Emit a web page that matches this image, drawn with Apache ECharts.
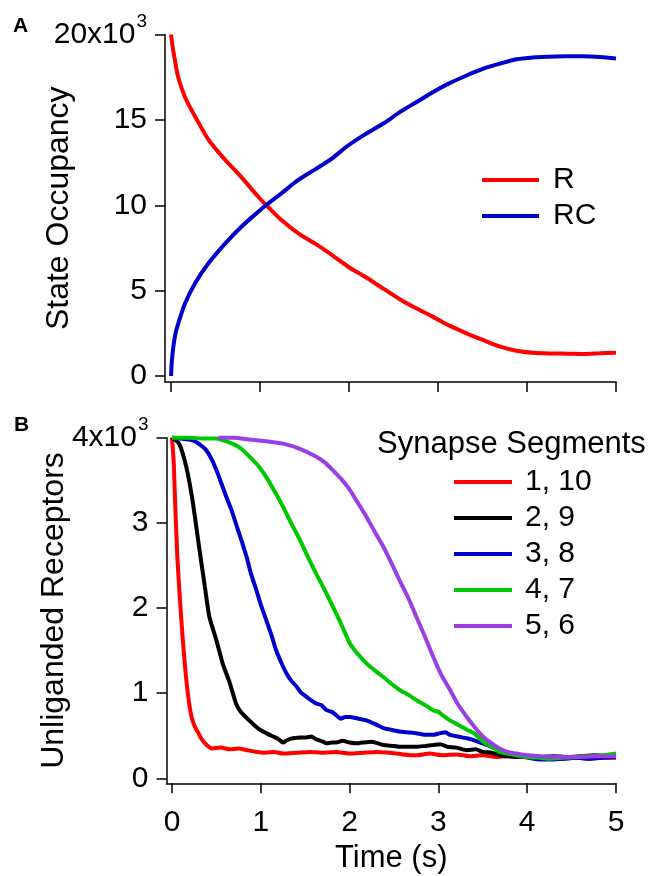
<!DOCTYPE html>
<html>
<head>
<meta charset="utf-8">
<script src="https://cdn.jsdelivr.net/npm/echarts@6/dist/echarts.min.js"></script>
<style>
  html, body { margin: 0; padding: 0; background: #fff; }
  #chart { width: 662px; height: 876px; }
</style>
</head>
<body>
<div id="chart"></div>
<script>
// Panel A: receptor state occupancy (values in thousands) vs time (s)
const occTicks = [0, 5, 10, 15, 20];
const timeTicks = [0, 1, 2, 3, 4, 5];
const rPoints = [
  [0, 20.0], [0.02, 19.2], [0.04, 18.6], [0.08, 17.5], [0.16, 16.3], [0.27, 15.2],
  [0.42, 13.85], [0.61, 12.65], [0.79, 11.65], [0.98, 10.5], [1.09, 9.9], [1.24, 9.13],
  [1.43, 8.35], [1.62, 7.75], [1.81, 7.08], [1.99, 6.4], [2.18, 5.81], [2.39, 5.1],
  [2.57, 4.5], [2.76, 3.95], [2.95, 3.45], [3.13, 2.95], [3.32, 2.5], [3.51, 2.1],
  [3.7, 1.72], [3.88, 1.48], [4.07, 1.36], [4.26, 1.32], [4.45, 1.31], [4.63, 1.29],
  [4.82, 1.33], [5.0, 1.37]
];
const rcPoints = [
  [0, 0], [0.008, 0.8], [0.026, 1.72], [0.05, 2.5], [0.082, 3.1], [0.157, 4.25],
  [0.27, 5.43], [0.42, 6.6], [0.61, 7.77], [0.79, 8.74], [0.98, 9.62], [1.09, 10.1],
  [1.24, 10.7], [1.43, 11.48], [1.62, 12.1], [1.81, 12.75], [1.99, 13.5], [2.18, 14.15],
  [2.39, 14.8], [2.57, 15.45], [2.76, 16.05], [2.95, 16.65], [3.13, 17.15], [3.32, 17.6],
  [3.51, 18.0], [3.7, 18.3], [3.88, 18.55], [4.07, 18.66], [4.26, 18.7], [4.45, 18.72],
  [4.63, 18.72], [4.82, 18.68], [5.0, 18.6]
];

// Panel B: unliganded receptors (thousands) per synapse segment pair
const recTicks = [0, 1, 2, 3, 4];
const seg1 = [
  [0, 4.0], [0.02, 3.7], [0.034, 3.27], [0.06, 2.6], [0.09, 2.09], [0.12, 1.65],
  [0.147, 1.31], [0.18, 0.98], [0.22, 0.72], [0.26, 0.6], [0.297, 0.53], [0.34, 0.45],
  [0.39, 0.39], [0.45, 0.35], [0.55, 0.36], [0.65, 0.34], [0.75, 0.35], [0.85, 0.33],
  [0.95, 0.31], [1.05, 0.3], [1.15, 0.31], [1.25, 0.29], [1.4, 0.3], [1.55, 0.31],
  [1.7, 0.3], [1.85, 0.31], [2.0, 0.29], [2.15, 0.3], [2.3, 0.31], [2.45, 0.3],
  [2.6, 0.28], [2.75, 0.27], [2.9, 0.29], [3.05, 0.27], [3.2, 0.28], [3.35, 0.26],
  [3.5, 0.27], [3.65, 0.25], [3.8, 0.26], [3.95, 0.25], [4.1, 0.24], [4.25, 0.24],
  [4.4, 0.23], [4.55, 0.24], [4.7, 0.23], [4.85, 0.24], [5.0, 0.24]
];
const seg2 = [
  [0, 4.0], [0.08, 3.93], [0.16, 3.66], [0.23, 3.27], [0.31, 2.68], [0.37, 2.25],
  [0.42, 1.9], [0.5, 1.62], [0.57, 1.35], [0.65, 1.12], [0.72, 0.88], [0.76, 0.8],
  [0.8, 0.75], [0.87, 0.68], [0.93, 0.62], [0.99, 0.57], [1.06, 0.53], [1.14, 0.49],
  [1.2, 0.46], [1.25, 0.42], [1.3, 0.45], [1.36, 0.47], [1.45, 0.48], [1.51, 0.48],
  [1.57, 0.49], [1.62, 0.46], [1.7, 0.43], [1.74, 0.41], [1.8, 0.42], [1.85, 0.42],
  [1.92, 0.44], [2.0, 0.42], [2.08, 0.41], [2.15, 0.42], [2.25, 0.43], [2.38, 0.39],
  [2.5, 0.38], [2.56, 0.37], [2.65, 0.37], [2.75, 0.37], [2.85, 0.38], [2.94, 0.39],
  [3.02, 0.4], [3.1, 0.37], [3.2, 0.36], [3.32, 0.33], [3.42, 0.34], [3.5, 0.31],
  [3.6, 0.3], [3.69, 0.27], [3.8, 0.26], [3.88, 0.25], [4.0, 0.26], [4.15, 0.25],
  [4.3, 0.26], [4.45, 0.25], [4.6, 0.26], [4.75, 0.27], [4.9, 0.26], [5.0, 0.27]
];
const seg3 = [
  [0, 4.0], [0.1, 3.99], [0.23, 3.97], [0.3, 3.93], [0.38, 3.86], [0.44, 3.76],
  [0.5, 3.62], [0.55, 3.48], [0.61, 3.31], [0.67, 3.15], [0.72, 2.99], [0.78, 2.8],
  [0.84, 2.6], [0.89, 2.4], [0.95, 2.21], [1.0, 2.04], [1.06, 1.86], [1.12, 1.68],
  [1.17, 1.51], [1.23, 1.36], [1.29, 1.23], [1.34, 1.15], [1.4, 1.08], [1.45, 1.01],
  [1.51, 0.96], [1.56, 0.92], [1.62, 0.88], [1.68, 0.86], [1.74, 0.8], [1.8, 0.78],
  [1.85, 0.74], [1.9, 0.7], [1.95, 0.72], [2.0, 0.72], [2.1, 0.7], [2.19, 0.68],
  [2.3, 0.63], [2.38, 0.59], [2.47, 0.57], [2.56, 0.55], [2.65, 0.54], [2.75, 0.53],
  [2.85, 0.51], [2.94, 0.51], [3.02, 0.53], [3.08, 0.54], [3.13, 0.51], [3.22, 0.49],
  [3.32, 0.47], [3.42, 0.44], [3.5, 0.41], [3.6, 0.37], [3.69, 0.33], [3.78, 0.3],
  [3.88, 0.27], [3.97, 0.25], [4.07, 0.23], [4.17, 0.22], [4.26, 0.22], [4.4, 0.23],
  [4.55, 0.24], [4.7, 0.23], [4.85, 0.24], [5.0, 0.25]
];
const seg4 = [
  [0, 4.0], [0.2, 4.0], [0.35, 3.99], [0.5, 3.99], [0.6, 3.96], [0.68, 3.93],
  [0.78, 3.87], [0.87, 3.78], [0.97, 3.67], [1.06, 3.54], [1.15, 3.38], [1.25, 3.19],
  [1.34, 3.0], [1.44, 2.8], [1.53, 2.6], [1.62, 2.41], [1.72, 2.21], [1.81, 2.02],
  [1.91, 1.8], [2.0, 1.59], [2.1, 1.45], [2.19, 1.35], [2.28, 1.27], [2.38, 1.19],
  [2.47, 1.11], [2.56, 1.04], [2.66, 0.98], [2.75, 0.92], [2.85, 0.86], [2.94, 0.8],
  [3.0, 0.78], [3.05, 0.74], [3.13, 0.68], [3.22, 0.63], [3.32, 0.57], [3.4, 0.53],
  [3.5, 0.43], [3.6, 0.37], [3.69, 0.31], [3.78, 0.29], [3.88, 0.27], [4.0, 0.25],
  [4.15, 0.24], [4.26, 0.23], [4.4, 0.24], [4.55, 0.25], [4.7, 0.26], [4.85, 0.27],
  [5.0, 0.29]
];
const seg5 = [
  [0.52, 4.0], [0.7, 4.0], [0.87, 3.98], [1.05, 3.96], [1.25, 3.93], [1.44, 3.87],
  [1.62, 3.78], [1.72, 3.71], [1.81, 3.62], [1.91, 3.51], [2.0, 3.39], [2.09, 3.24],
  [2.19, 3.07], [2.28, 2.9], [2.38, 2.72], [2.47, 2.53], [2.56, 2.33], [2.66, 2.12],
  [2.75, 1.9], [2.85, 1.66], [2.94, 1.43], [3.03, 1.22], [3.13, 1.04], [3.22, 0.87],
  [3.32, 0.72], [3.41, 0.6], [3.5, 0.49], [3.6, 0.41], [3.69, 0.35], [3.78, 0.31],
  [3.88, 0.29], [4.0, 0.27], [4.15, 0.26], [4.3, 0.25], [4.45, 0.25], [4.6, 0.25],
  [4.75, 0.26], [4.9, 0.26], [5.0, 0.26]
];
const segNames = ['1, 10', '2, 9', '3, 8', '4, 7', '5, 6'];
const segColors = ['#ff0000', '#000000', '#0000cc', '#00c800', '#9a3fe6'];
const segData = [seg1, seg2, seg3, seg4, seg5];

const FONT = 'Liberation Sans, Arial, sans-serif';

// Top tick label carries the x10^3 multiplier as a superscript
function multLabel(top) {
  return function (v) {
    if (v === top) return '{n|' + top + 'x10}{s|3}';
    return '{n|' + v + '}';
  };
}
const labelRich = {
  n: { fontSize: 30, fontFamily: FONT, color: '#000' },
  s: { fontSize: 19, fontFamily: FONT, color: '#000', padding: [0, 0, 26, 1] }
};

function baseAxis(extra) {
  return Object.assign({
    type: 'value',
    splitLine: { show: false },
    nameMoveOverlap: false,
    axisLine: { show: true, onZero: false, lineStyle: { color: '#000', width: 1.5 } },
    axisTick: { show: true, inside: false, length: 10, lineStyle: { color: '#000', width: 1.5 } }
  }, extra);
}

const option = {
  backgroundColor: '#fff',
  animation: false,
  title: [
    { text: 'A', left: 13, top: 16, padding: 0,
      textStyle: { fontSize: 21, fontWeight: 'bold', fontFamily: FONT, color: '#000' } },
    { text: 'B', left: 14, top: 415, padding: 0,
      textStyle: { fontSize: 21, fontWeight: 'bold', fontFamily: FONT, color: '#000' } },
    { text: 'Synapse Segments', left: 377, top: 429, padding: 0,
      textStyle: { fontSize: 31, fontWeight: 'normal', fontFamily: FONT, color: '#000' } }
  ],
  legend: [
    {
      data: ['R', 'RC'], orient: 'vertical', left: 482, top: 165, padding: 0,
      icon: 'rect', itemWidth: 57, itemHeight: 4, itemGap: 6,
      selectedMode: false,
      textStyle: { fontSize: 30, fontFamily: FONT, color: '#000', padding: [0, 0, 0, 9] }
    },
    {
      data: segNames, orient: 'vertical', left: 454, top: 467, padding: 0,
      icon: 'rect', itemWidth: 58, itemHeight: 4, itemGap: 6,
      selectedMode: false,
      textStyle: { fontSize: 30, fontFamily: FONT, color: '#000', padding: [0, 0, 0, 8] }
    }
  ],
  grid: [
    { left: 165, right: 46, top: 34.5, height: 347.5 },
    { left: 166.5, right: 46, top: 437.7, height: 345.6 }
  ],
  xAxis: [
    baseAxis({
      gridIndex: 0, min: -0.068, max: 5,
      axisTick: { show: true, length: 10, customValues: timeTicks, lineStyle: { color: '#000', width: 1.5 } },
      axisLabel: { show: false }
    }),
    baseAxis({
      gridIndex: 1, min: -0.062, max: 5,
      name: 'Time (s)', nameLocation: 'middle', nameGap: 60,
      nameTextStyle: { fontSize: 31, fontFamily: FONT, color: '#000' },
      axisTick: { show: true, length: 10, customValues: timeTicks, lineStyle: { color: '#000', width: 1.5 } },
      axisLabel: { customValues: timeTicks, margin: 24, fontSize: 30, fontFamily: FONT, color: '#000' }
    })
  ],
  yAxis: [
    baseAxis({
      gridIndex: 0, min: -0.35, max: 20,
      name: 'State Occupancy', nameLocation: 'middle', nameGap: 90,
      nameTextStyle: { fontSize: 32, fontFamily: FONT, color: '#000' },
      axisTick: { show: true, length: 10, customValues: occTicks, lineStyle: { color: '#000', width: 1.5 } },
      axisLabel: { customValues: occTicks, margin: 18, formatter: multLabel(20), rich: labelRich }
    }),
    baseAxis({
      gridIndex: 1, min: -0.059, max: 4,
      name: 'Unliganded Receptors', nameLocation: 'middle', nameGap: 96,
      nameTextStyle: { fontSize: 32, fontFamily: FONT, color: '#000' },
      axisTick: { show: true, length: 10, customValues: recTicks, lineStyle: { color: '#000', width: 1.5 } },
      axisLabel: { customValues: recTicks, margin: 18, formatter: multLabel(4), rich: labelRich }
    })
  ],
  series: [
    { name: 'R', type: 'line', xAxisIndex: 0, yAxisIndex: 0, data: rPoints,
      color: '#ff0000', showSymbol: false, smooth: 0.3, clip: false,
      lineStyle: { width: 4, color: '#ff0000' } },
    { name: 'RC', type: 'line', xAxisIndex: 0, yAxisIndex: 0, data: rcPoints,
      color: '#0000cc', showSymbol: false, smooth: 0.3, clip: false,
      lineStyle: { width: 4, color: '#0000cc' } }
  ].concat(segData.map(function (d, i) {
    return {
      name: segNames[i], type: 'line', xAxisIndex: 1, yAxisIndex: 1, data: d,
      color: segColors[i], showSymbol: false, smooth: 0.2, clip: false,
      lineStyle: { width: 4, color: segColors[i] }
    };
  }))
};

const chart = echarts.init(document.getElementById('chart'), null, { renderer: 'canvas' });
chart.setOption(option);
</script>
</body>
</html>
